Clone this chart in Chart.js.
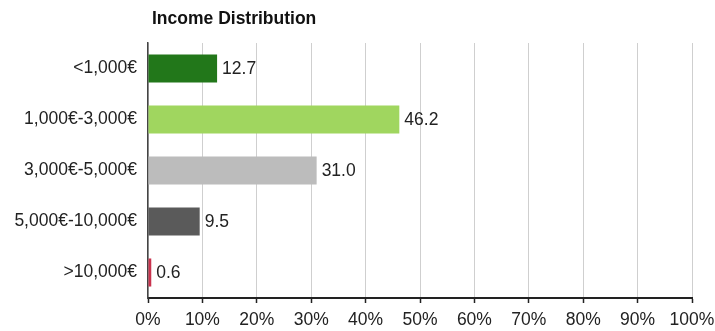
<!DOCTYPE html>
<html>
<head>
<meta charset="utf-8">
<script src="https://cdn.jsdelivr.net/npm/chart.js@4/dist/chart.umd.min.js"></script>
<style>
  html, body { margin: 0; padding: 0; background: #fff; }
  #wrap { width: 715px; height: 331px; }
</style>
</head>
<body>
<div id="wrap"><canvas id="c" width="715" height="331"></canvas></div>
<script>
const chartTitle = 'Income Distribution';
const categories = ['<1,000€', '1,000€-3,000€', '3,000€-5,000€', '5,000€-10,000€', '>10,000€'];
const shares = [12.7, 46.2, 31.0, 9.5, 0.6];
const barColors = ['#22771a', '#a0d65f', '#bcbcbc', '#5a5a5a', '#c9334e'];
const tickValues = [0, 10, 20, 30, 40, 50, 60, 70, 80, 90, 100];

const FONT = '"Liberation Sans", Arial, sans-serif';

// Heading drawn above the plot, aligned to the value axis
const headingPlugin = {
  id: 'heading',
  afterDraw(chart) {
    const ctx = chart.ctx;
    ctx.save();
    ctx.font = 'bold 17.5px ' + FONT;
    ctx.fillStyle = '#111';
    ctx.textAlign = 'left';
    ctx.textBaseline = 'middle';
    ctx.fillText(chartTitle, 152, 19);
    ctx.restore();
  }
};

// Value written just past the end of each bar
const valueLabels = {
  id: 'valueLabels',
  afterDatasetsDraw(chart) {
    const ctx = chart.ctx;
    const meta = chart.getDatasetMeta(0);
    ctx.save();
    ctx.font = '17.5px ' + FONT;
    ctx.fillStyle = '#222';
    ctx.textAlign = 'left';
    ctx.textBaseline = 'middle';
    meta.data.forEach((bar, i) => {
      ctx.fillText(shares[i].toFixed(1), bar.x + 5, bar.y + 1);
    });
    ctx.restore();
  }
};

new Chart(document.getElementById('c'), {
  type: 'bar',
  data: {
    labels: categories,
    datasets: [{
      data: shares,
      backgroundColor: barColors,
      borderWidth: 0,
      barPercentage: 0.55,
      categoryPercentage: 1
    }]
  },
  options: {
    indexAxis: 'y',
    responsive: false,
    animation: false,
    devicePixelRatio: 1,
    layout: { padding: { top: 43, right: 23, bottom: 0, left: 0 } },
    plugins: {
      legend: { display: false },
      title: { display: false },
      tooltip: { enabled: false }
    },
    scales: {
      x: {
        min: 0,
        max: 100,
        afterBuildTicks(scale) {
          scale.ticks = tickValues.map(v => ({ value: v }));
        },
        afterFit(scale) {
          scale.height = 33;
          scale.paddingLeft = 0;
          scale.paddingRight = 0;
        },
        grid: {
          color: '#cfcfcf',
          lineWidth: 1,
          drawTicks: true,
          tickLength: 5,
          tickColor: '#222',
          tickWidth: 1.5
        },
        border: { display: true, color: '#222', width: 2 },
        ticks: {
          padding: 7,
          color: '#222',
          font: { family: FONT, size: 17.5 },
          maxRotation: 0,
          autoSkip: false,
          callback: v => v + '%'
        }
      },
      y: {
        afterFit(scale) { scale.width = 148; },
        grid: { display: false, drawTicks: false },
        border: { display: true, color: '#444', width: 1.5 },
        ticks: {
          padding: 11,
          color: '#222',
          font: { family: FONT, size: 17.5 }
        }
      }
    }
  },
  plugins: [headingPlugin, valueLabels]
});
</script>
</body>
</html>
